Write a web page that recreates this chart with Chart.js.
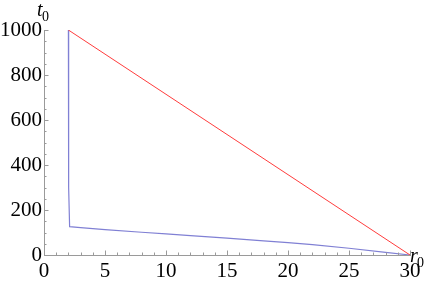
<!DOCTYPE html>
<html>
<head>
<meta charset="utf-8">
<script src="https://cdn.jsdelivr.net/npm/chart.js@4"></script>
<style>
  html, body { margin: 0; padding: 0; background: #fff; }
  #wrap { width: 436px; height: 282px; }
</style>
</head>
<body>
<div id="wrap"><canvas id="chart" width="436" height="282"></canvas></div>
<script>
// values
const redR = [2, 30];
const redT = [1000, 0];
const blueR = [2, 2.02, 2.1, 3, 5, 8, 10, 12, 15, 18, 20, 22, 25, 28, 30];
const blueT = [1000, 300, 126, 122, 113, 101, 94, 86, 75, 63, 55, 46, 30, 12, 0];
const xTicks = [0, 5, 10, 15, 20, 25, 30];
const yTicks = [0, 200, 400, 600, 800, 1000];

const SERIF = "'Liberation Serif', 'Times New Roman', serif";
const toPts = (xs, ys) => xs.map((x, i) => ({ x: x, y: ys[i] }));

// mathematica style ticks pointing into the plot + axis labels
const axisDeco = {
  id: "axisDeco",
  afterDraw(chart) {
    const ctx = chart.ctx;
    const xs = chart.scales.x, ys = chart.scales.y;
    const x0 = xs.getPixelForValue(0), y0 = ys.getPixelForValue(0);
    ctx.save();
    ctx.strokeStyle = "#9a9a9a";
    ctx.lineWidth = 1;
    ctx.beginPath();
    for (let v = 0; v <= 30; v++) {
      const px = Math.round(xs.getPixelForValue(v)) + 0.5;
      const len = v % 5 === 0 ? 4.5 : 2.5;
      ctx.moveTo(px, y0);
      ctx.lineTo(px, y0 - len);
    }
    for (let v = 0; v <= 1000; v += 50) {
      const py = Math.round(ys.getPixelForValue(v)) + 0.5;
      const len = v % 200 === 0 ? 4.5 : 2.5;
      ctx.moveTo(x0, py);
      ctx.lineTo(x0 + len, py);
    }
    ctx.stroke();

    ctx.fillStyle = "#000";
    ctx.textBaseline = "alphabetic";
    ctx.font = "italic 20px " + SERIF;
    ctx.fillText("t", 37, 16);
    ctx.fillText("r", 410, 262);
    ctx.font = "14px " + SERIF;
    ctx.fillText("0", 42, 21);
    ctx.fillText("0", 417, 267);
    ctx.restore();
  }
};

new Chart(document.getElementById("chart"), {
  type: "scatter",
  data: {
    datasets: [
      {
        data: toPts(redR, redT),
        showLine: true,
        borderColor: "#ff3c3c",
        borderWidth: 1,
        pointRadius: 0
      },
      {
        data: toPts(blueR, blueT),
        showLine: true,
        borderColor: "#8080d4",
        borderWidth: 1.2,
        pointRadius: 0,
        tension: 0
      }
    ]
  },
  options: {
    responsive: false,
    animation: false,
    devicePixelRatio: 1,
    layout: { padding: { left: 0, top: 30, right: 26, bottom: 0 } },
    plugins: { legend: { display: false }, tooltip: { enabled: false } },
    scales: {
      x: {
        type: "linear",
        min: 0,
        max: 30,
        afterFit: (s) => { s.height = 27; },
        afterBuildTicks: (s) => { s.ticks = xTicks.map((v) => ({ value: v })); },
        grid: { display: false, drawTicks: false },
        border: { display: true, color: "#9a9a9a", width: 1 },
        ticks: {
          color: "#000",
          padding: 4,
          maxRotation: 0,
          autoSkip: false,
          callback: (v) => String(v),
          font: { family: SERIF, size: 21 }
        }
      },
      y: {
        type: "linear",
        min: 0,
        max: 1000,
        afterFit: (s) => { s.width = 44; },
        afterBuildTicks: (s) => { s.ticks = yTicks.map((v) => ({ value: v })); },
        grid: { display: false, drawTicks: false },
        border: { display: true, color: "#9a9a9a", width: 1 },
        ticks: {
          color: "#000",
          padding: 2,
          autoSkip: false,
          callback: (v) => String(v),
          font: { family: SERIF, size: 21 }
        }
      }
    }
  },
  plugins: [axisDeco]
});
</script>
</body>
</html>
